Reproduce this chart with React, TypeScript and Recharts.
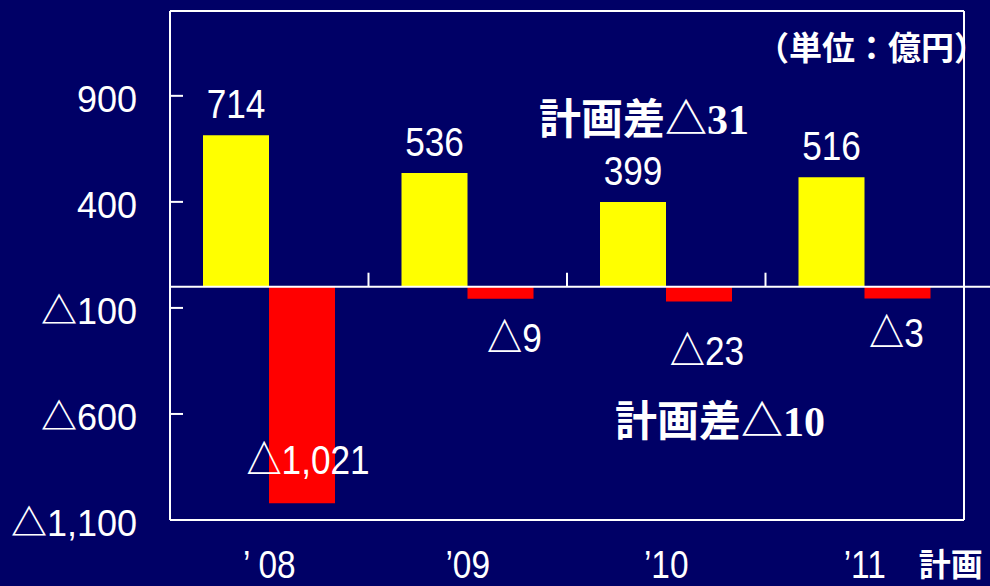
import { BarChart, Bar, XAxis, YAxis, ReferenceLine, LabelList } from "recharts";

const years = ["’ 08", "’09", "’10", "’11"];
const profit = [714, 536, 399, 516];
const profitLabels = ["714", "536", "399", "516"];
// the small red bars are drawn taller than their labels say in the source picture
const loss = [-1021, -57, -70, -56];
const lossLabels = ["△1,021", "△9", "△23", "△3"];
const yTicks = [-1100, -600, -100, 400, 900];
const planNote = "計画";
const unitNote = "（単位：億円）";
const diffJp = "計画差△";
const diffNums = ["31", "10"];

const data = years.map((year, i) => ({
  year,
  profit: profit[i],
  loss: loss[i],
  profitLabel: profitLabels[i],
  lossLabel: lossLabels[i],
}));

const BG = "#000066";
const numFont = "'Liberation Sans', Arial, sans-serif";
const jpFont = "'Noto Sans CJK JP', sans-serif";

// where each red label sits, relative to the end of its bar
const lossLabelShift = [
  [6, -29],
  [14, 53],
  [8, 63],
  [-1, 48],
];

const fmt = (v: number) =>
  v < 0 ? "△" + Math.abs(v).toLocaleString("en-US") : v.toLocaleString("en-US");

// the triangle comes from the CJK font, the digits from the latin one
const Num = ({ s }: { s: string }) =>
  s.startsWith("△") ? (
    <>
      <tspan fontFamily={jpFont} fontWeight={700}>△</tspan>
      <tspan fontFamily={numFont}>{s.slice(1)}</tspan>
    </>
  ) : (
    <tspan fontFamily={numFont}>{s}</tspan>
  );

// narrow gothic-like numbers
const NarrowText = ({ x, y, s, size = 40 }: { x: number; y: number; s: string; size?: number }) => (
  <text transform={`translate(${x},${y}) scale(0.88,1)`} textAnchor="middle" fill="#fff" fontSize={size}>
    <Num s={s} />
  </text>
);

const YTick = (p: any) => {
  const { x, y, payload } = p;
  return (
    <g>
      <line x1={x} x2={x + 13} y1={y} y2={y} stroke="#fff" strokeWidth={2} />
      <text x={x - 33} y={y + 16} textAnchor="end" fill="#fff" fontSize={36}>
        <Num s={fmt(payload.value)} />
      </text>
    </g>
  );
};

const XTick = (p: any) => {
  const { x, y, payload, index } = p;
  return (
    <g>
      <NarrowText x={x} y={y + 58} s={payload.value} size={38} />
      {index === years.length - 1 && (
        <text x={x + 54} y={y + 56} fill="#fff" fontSize={32} fontWeight={700} fontFamily={jpFont}>
          {planNote}
        </text>
      )}
    </g>
  );
};

const ProfitLabel = (p: any) => {
  const { x, y, width, height, value } = p;
  const top = Math.min(y, y + height);
  return <NarrowText x={x + width / 2} y={top - 17} s={value} />;
};

const LossLabel = (p: any) => {
  const { x, y, width, height, value, index } = p;
  const end = Math.max(y, y + height);
  const [dx, dy] = lossLabelShift[index];
  return <NarrowText x={x + width / 2 + dx} y={end + dy} s={value} />;
};

const ZeroLine = (p: any) => {
  const { x1, x2, y1 } = p;
  const step = (x2 - x1) / years.length;
  return (
    <g>
      <line x1={x1} x2={x2 + 26} y1={y1} y2={y1} stroke="#fff" strokeWidth={2} />
      {years.slice(1).map((_, i) => (
        <line key={i} x1={x1 + step * (i + 1)} x2={x1 + step * (i + 1)} y1={y1} y2={y1 - 14}
          stroke="#fff" strokeWidth={2} />
      ))}
    </g>
  );
};

export default function App() {
  return (
    <div style={{ position: "absolute", left: 0, top: 0, width: 990, height: 586, background: BG, overflow: "hidden" }}>
      <BarChart width={990} height={586} data={data} barGap={0} barCategoryGap={33}
        margin={{ top: 11, right: 0, left: 0, bottom: 1 }}>
        <XAxis dataKey="year" height={65} tickLine={false} tickSize={0} tickMargin={0}
          axisLine={{ stroke: "#fff", strokeWidth: 2 }} tick={<XTick />} interval={0} />
        <YAxis width={170} domain={[-1100, 1300]} ticks={yTicks} tickLine={false} tickSize={0} tickMargin={0}
          axisLine={{ stroke: "#fff", strokeWidth: 2 }} tick={<YTick />} interval={0} />
        <YAxis yAxisId="right" orientation="right" width={26} domain={[-1100, 1300]} tick={false} tickLine={false}
          axisLine={{ stroke: "#fff", strokeWidth: 2 }} />
        <ReferenceLine y={1300} stroke="#fff" strokeWidth={2} />
        <Bar dataKey="profit" fill="#ffff00" isAnimationActive={false}>
          <LabelList dataKey="profitLabel" content={<ProfitLabel />} />
        </Bar>
        <Bar dataKey="loss" fill="#ff0000" isAnimationActive={false}>
          <LabelList dataKey="lossLabel" content={<LossLabel />} />
        </Bar>
        <ReferenceLine y={0} stroke="#fff" shape={<ZeroLine />} />
      </BarChart>
      <svg width={990} height={586} style={{ position: "absolute", left: 0, top: 0, pointerEvents: "none" }}>
        <text x={756} y={60} fill="#fff" fontSize={33} fontWeight={700} fontFamily={jpFont}>{unitNote}</text>
        <text x={539} y={134} fill="#fff" fontSize={42} fontWeight={700}>
          <tspan fontFamily={jpFont}>{diffJp}</tspan>
          <tspan fontFamily="'Liberation Serif', serif">{diffNums[0]}</tspan>
        </text>
        <text x={615} y={436} fill="#fff" fontSize={42} fontWeight={700}>
          <tspan fontFamily={jpFont}>{diffJp}</tspan>
          <tspan fontFamily="'Liberation Serif', serif">{diffNums[1]}</tspan>
        </text>
      </svg>
    </div>
  );
}
